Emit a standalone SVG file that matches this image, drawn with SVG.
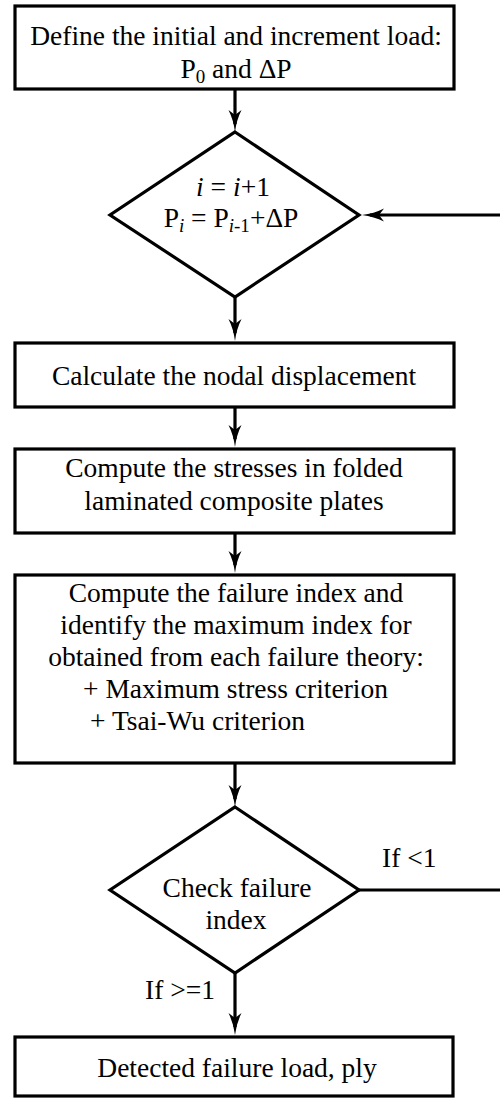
<svg xmlns="http://www.w3.org/2000/svg" width="500" height="1100" viewBox="0 0 500 1100">
<style>
.box{fill:#fff;stroke:#000;stroke-width:3.2}
text{font-family:'Liberation Serif','Times New Roman',serif;font-size:27.5px;fill:#000}
.t{text-anchor:middle}
.c{fill:none;stroke:#000;stroke-width:3.2}
.it{font-style:italic}
</style>
<defs>
<marker id="ah" markerUnits="userSpaceOnUse" viewBox="0 0 32 20" markerWidth="32" markerHeight="20" refX="22" refY="10" orient="auto">
<path d="M30,10 Q18,8.5 8,3.5 L13,10 L8,16.5 Q18,11.5 30,10 Z" fill="#000"/>
</marker>
</defs>
<rect width="500" height="1100" fill="#fff"/>
<g id="connectors">
<line class="c" x1="235" y1="89" x2="235" y2="124" marker-end="url(#ah)"/>
<line class="c" x1="235" y1="297" x2="235" y2="333" marker-end="url(#ah)"/>
<line class="c" x1="235" y1="407" x2="235" y2="439" marker-end="url(#ah)"/>
<line class="c" x1="235" y1="533" x2="235" y2="565" marker-end="url(#ah)"/>
<line class="c" x1="235" y1="763" x2="235" y2="799" marker-end="url(#ah)"/>
<line class="c" x1="235" y1="973" x2="235" y2="1027" marker-end="url(#ah)"/>
<line class="c" x1="500" y1="215" x2="370" y2="215" marker-end="url(#ah)"/>
<line class="c" x1="359" y1="890" x2="500" y2="890"/>
<text x="382" y="867">If &lt;1</text>
<text x="145" y="999">If &gt;=1</text>
</g>
<g id="n1">
<rect class="box" x="15" y="6" width="439" height="83"/>
<text class="t" x="236" y="45" font-size="28.2">Define the initial and increment load:</text>
<text class="t" x="236" y="78" font-size="28.2">P<tspan font-size="19" dy="5">0</tspan><tspan dy="-5"> and ΔP</tspan></text>
</g>
<g id="n2">
<polygon class="box" points="235,132 359,215 235,297 110,215"/>
<text class="t" x="233" y="196"><tspan class="it">i</tspan> = <tspan class="it">i</tspan>+1</text>
<text class="t" x="231" y="227">P<tspan class="it" font-size="19" dy="5">i</tspan><tspan dy="-5"> = P</tspan><tspan font-size="19" dy="5"><tspan class="it">i</tspan>-1</tspan><tspan dy="-5">+ΔP</tspan></text>
</g>
<g id="n3">
<rect class="box" x="15" y="343" width="439" height="64"/>
<text class="t" x="234" y="385">Calculate the nodal displacement</text>
</g>
<g id="n4">
<rect class="box" x="15" y="449" width="439" height="84"/>
<text class="t" x="234" y="477">Compute the stresses in folded</text>
<text class="t" x="234" y="510">laminated composite plates</text>
</g>
<g id="n5">
<rect class="box" x="15" y="575" width="439" height="188"/>
<text class="t" x="236" y="602">Compute the failure index and</text>
<text class="t" x="236" y="634">identify the maximum index for</text>
<text class="t" x="236" y="666">obtained from each failure theory:</text>
<text class="t" x="235.5" y="698">+ Maximum stress criterion</text>
<text x="90" y="730">+ Tsai-Wu criterion</text>
</g>
<g id="n6">
<polygon class="box" points="235,807 359,890 235,973 110,890"/>
<text class="t" x="237" y="897">Check failure</text>
<text class="t" x="236" y="929">index</text>
</g>
<g id="n7">
<rect class="box" x="15" y="1037" width="438" height="59"/>
<text class="t" x="237" y="1077">Detected failure load, ply</text>
</g>
</svg>
